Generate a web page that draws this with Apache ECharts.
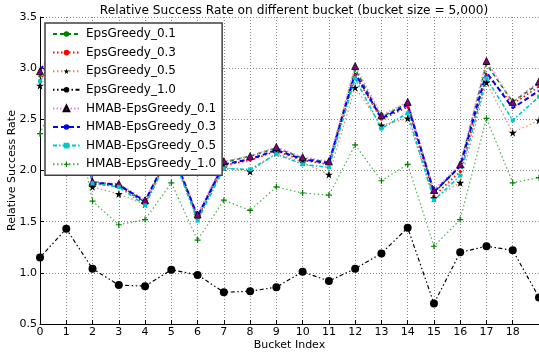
<!DOCTYPE html>
<html>
<head>
<meta charset="utf-8">
<script src="https://cdn.jsdelivr.net/npm/echarts@6/dist/echarts.min.js"></script>
<style>
  html, body { margin: 0; padding: 0; background: #fff; }
  #chart { width: 539px; height: 354px; }
</style>
</head>
<body>
<div id="chart"></div>
<script>
// Bucket indices and relative success rate per strategy
const buckets = [0,1,2,3,4,5,6,7,8,9,10,11,12,13,14,15,16,17,18,19];
const yTicks = [0.5, 1.0, 1.5, 2.0, 2.5, 3.0, 3.5];

const epsGreedy01 = [2.92,3.30,1.89,1.86,1.69,2.20,1.55,2.08,2.14,2.22,2.12,2.08,2.99,2.52,2.66,1.78,2.05,3.04,2.67,2.85];
const epsGreedy03 = [2.88,3.27,1.87,1.85,1.68,2.19,1.53,2.05,2.10,2.19,2.10,2.06,2.93,2.50,2.62,1.75,1.99,2.93,2.65,2.82];
const epsGreedy05 = [2.83,3.22,1.84,1.77,1.67,2.17,1.56,2.03,1.99,2.17,2.08,1.96,2.81,2.44,2.51,1.73,1.88,2.86,2.37,2.49];
const epsGreedy10 = [1.15,1.43,1.04,0.88,0.87,1.03,0.98,0.81,0.82,0.86,1.01,0.92,1.04,1.19,1.44,0.70,1.20,1.26,1.22,0.76];
const hmab01 = [2.97,3.33,1.89,1.87,1.71,2.22,1.57,2.09,2.14,2.23,2.13,2.09,3.02,2.54,2.67,1.81,2.06,3.07,2.67,2.87];
const hmab03 = [2.98,3.32,1.88,1.86,1.70,2.21,1.55,2.06,2.11,2.20,2.11,2.07,2.95,2.51,2.64,1.79,2.04,2.96,2.61,2.78];
const hmab05 = [2.87,3.25,1.875,1.84,1.66,2.18,1.51,2.02,2.01,2.16,2.06,2.03,2.90,2.41,2.56,1.71,1.95,2.90,2.49,2.72];
const hmab10 = [2.36,2.95,1.70,1.47,1.52,1.88,1.32,1.71,1.61,1.84,1.78,1.76,2.25,1.90,2.06,1.26,1.52,2.51,1.88,1.93];

const seriesNames = [
  'EpsGreedy_0.1','EpsGreedy_0.3','EpsGreedy_0.5','EpsGreedy_1.0',
  'HMAB-EpsGreedy_0.1','HMAB-EpsGreedy_0.3','HMAB-EpsGreedy_0.5','HMAB-EpsGreedy_1.0'
];

const STAR = 'path://M50,0 L61,35 L98,35 L68,57 L79,91 L50,70 L21,91 L32,57 L2,35 L39,35 Z';
const PLUS = 'path://M4,0H6V4H10V6H6V10H4V6H0V4H4Z';
const FONT = 'DejaVu Sans';

function pairs(vals) { return vals.map((v, i) => [buckets[i], v]); }

function lineSeries(name, vals, o) {
  return {
    name: name,
    type: 'line',
    data: pairs(vals),
    symbol: o.symbol || 'circle',
    symbolSize: o.size || 3,
    showSymbol: o.symbol !== 'none',
    lineStyle: { color: o.lineColor, width: o.width || 1.2, type: o.dash },
    itemStyle: { color: o.markColor, borderColor: o.edge || o.markColor, borderWidth: o.edge ? 0.8 : 0 },
    emphasis: { disabled: true },
    animation: false
  };
}

const series = [
  lineSeries(seriesNames[0], epsGreedy01, { lineColor: '#008000', markColor: '#008000', dash: [4, 3], width: 1.6, size: 3 }),
  lineSeries(seriesNames[1], epsGreedy03, { lineColor: '#ff0000', markColor: '#ff0000', dash: [1.5, 2.5], width: 1.6, size: 3 }),
  lineSeries(seriesNames[2], epsGreedy05, { lineColor: '#f08060', markColor: '#000000', dash: [1.5, 2.5], width: 1.2, symbol: STAR, size: 8 }),
  lineSeries(seriesNames[3], epsGreedy10, { lineColor: '#000000', markColor: '#000000', dash: [1.5, 2.5, 1.5, 2.5, 4, 2.5], width: 1.2, size: 8 }),
  lineSeries(seriesNames[4], hmab01, { lineColor: '#ee82ee', markColor: '#800080', edge: '#000000', dash: [1.5, 2], width: 1.6, symbol: 'triangle', size: 7 }),
  lineSeries(seriesNames[5], hmab03, { lineColor: '#0000ff', markColor: '#0000ff', dash: [5, 3], width: 2, symbol: 'none' }),
  lineSeries(seriesNames[6], hmab05, { lineColor: '#00c8c8', markColor: '#00c8c8', dash: [4, 2, 1.5, 2], width: 1.6, symbol: 'rect', size: 4 }),
  lineSeries(seriesNames[7], hmab10, { lineColor: '#4caf50', markColor: '#008000', dash: [1.5, 2.5], width: 1.2, symbol: PLUS, size: 6 })
];

const chart = echarts.init(document.getElementById('chart'), null, { renderer: 'canvas' });
chart.setOption({
  backgroundColor: '#ffffff',
  animation: false,
  title: {
    text: 'Relative Success Rate on different bucket (bucket size = 5,000)',
    left: 289, top: 0, textAlign: 'center',
    textStyle: { fontFamily: FONT, fontSize: 12.2, fontWeight: 'normal', color: '#000' }
  },
  grid: { left: 40, right: 0, top: 17, bottom: 30, containLabel: false, outerBoundsMode: 'none', show: false },
  xAxis: {
    type: 'value', min: 0, max: 19, interval: 1,
    name: 'Bucket Index', nameLocation: 'middle', nameGap: 16, nameMoveOverlap: false,
    nameTextStyle: { fontFamily: FONT, fontSize: 11, color: '#000' },
    axisLine: { show: true, lineStyle: { color: '#000', width: 1 } },
    axisTick: { show: true, inside: true, length: 4, lineStyle: { color: '#000' } },
    axisLabel: {
      fontFamily: FONT, fontSize: 11, color: '#000', margin: 3,
      formatter: v => (v === 19 ? '' : String(v))
    },
    splitLine: { show: true, lineStyle: { color: '#888', type: [1, 2], width: 1 } }
  },
  yAxis: {
    type: 'value', min: 0.5, max: 3.5, interval: 0.5,
    name: 'Relative Success Rate', nameLocation: 'middle', nameGap: 22, nameMoveOverlap: false,
    nameTextStyle: { fontFamily: FONT, fontSize: 11, color: '#000' },
    axisLine: { show: true, lineStyle: { color: '#000', width: 1 } },
    axisTick: { show: true, inside: true, length: 4, lineStyle: { color: '#000' } },
    axisLabel: {
      fontFamily: FONT, fontSize: 11, color: '#000', margin: 3,
      formatter: v => yTicks.includes(v) ? v.toFixed(1) : ''
    },
    splitLine: { show: true, lineStyle: { color: '#888', type: [1, 2], width: 1 } }
  },
  legend: {
    data: seriesNames,
    orient: 'vertical',
    left: 45, top: 23,
    padding: [5, 6, 5, 7],
    itemWidth: 27, itemHeight: 7, itemGap: 6.6,
    backgroundColor: '#ffffff',
    borderColor: '#404040', borderWidth: 1.5,
    textStyle: { fontFamily: FONT, fontSize: 12, color: '#000', padding: [0, 0, 0, 1] },
    selectedMode: false
  },
  series: series
});
</script>
</body>
</html>
